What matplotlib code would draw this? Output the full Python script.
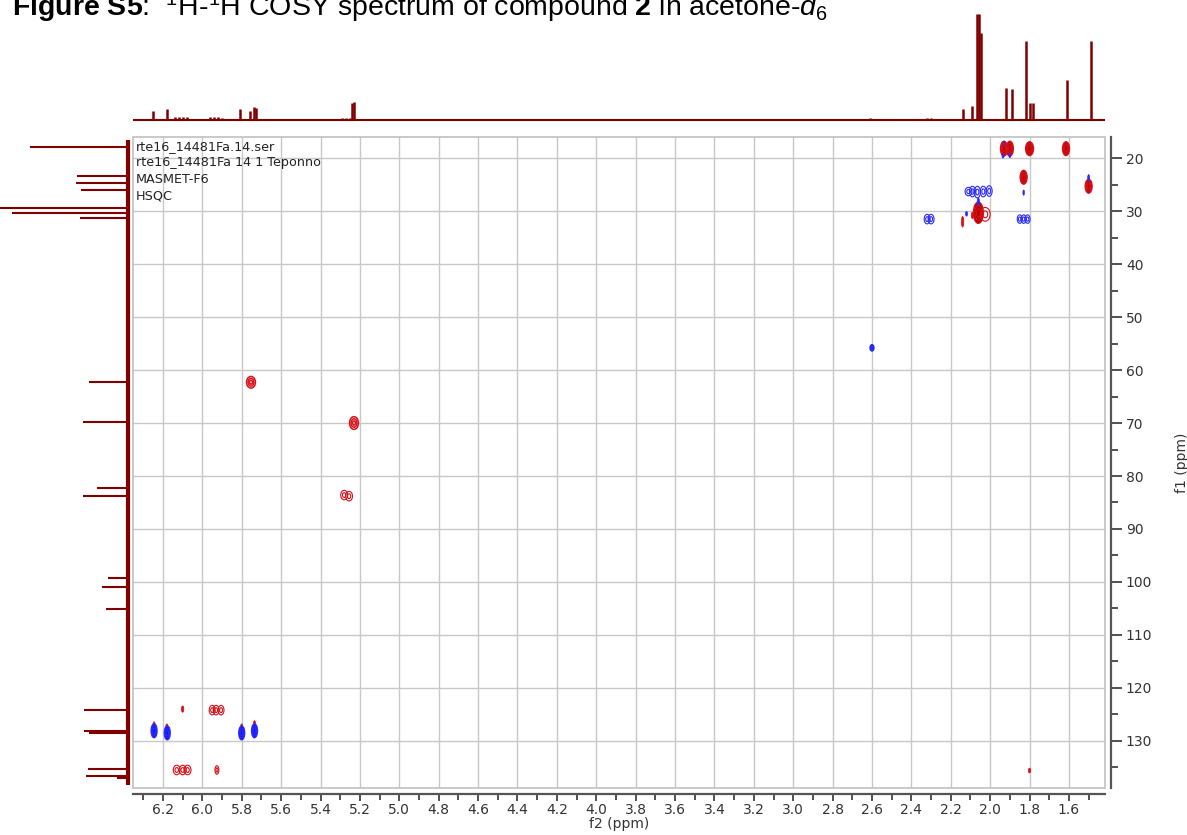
import matplotlib
matplotlib.use("Agg")
import matplotlib.pyplot as plt
from matplotlib.patches import Ellipse, Rectangle
from matplotlib.ticker import MultipleLocator

# 1H projection on top: shift (ppm) and height
h_shift = [6.25, 6.18, 6.14, 6.12, 6.10, 6.08, 5.96, 5.94, 5.92, 5.90, 5.81, 5.76,
           5.74, 5.73, 5.29, 5.27, 5.25, 5.24, 5.23, 2.61, 2.32, 2.30, 2.14, 2.09,
           2.065, 2.055, 2.045, 1.92, 1.89, 1.82, 1.80, 1.785, 1.61, 1.49]
h_height = [9, 11, 3, 3, 3, 3, 3, 3, 3, 2, 11, 9,
            13, 12, 2, 2, 2, 17, 18, 2, 2, 2, 11, 14,
            106, 106, 87, 32, 31, 79, 17, 17, 40, 79]

# 13C projection on the left: shift (ppm) and height
c_shift = [17.9, 23.4, 24.7, 26.0, 29.4, 30.4, 31.3, 62.3, 69.8, 82.3, 83.8,
           99.2, 100.9, 105.1, 124.2, 128.1, 128.5, 135.3, 136.6, 137.0]
c_height = [96, 50, 51, 46, 140, 113, 47, 38, 44, 30, 44,
            19, 25, 21, 43, 43, 38, 39, 41, 11]

# HSQC cross peaks, positive phase (red)
pos_f2 = [1.93, 1.90, 1.80, 1.615, 1.83, 1.50, 2.06, 2.025, 2.14, 2.09,
          5.753, 5.23, 5.28, 5.255, 5.95, 5.93, 5.905, 6.10,
          6.13, 6.10, 6.075, 5.926, 1.80, 6.245, 6.18, 5.80, 5.735]
pos_f1 = [18.2, 18.2, 18.2, 18.2, 23.6, 25.3, 30.3, 30.6, 32.0, 30.8,
          62.3, 70.0, 83.6, 83.8, 124.2, 124.2, 124.2, 124.0,
          135.5, 135.5, 135.5, 135.5, 135.6, 126.8, 127.2, 127.2, 126.6]
pos_w = [0.035, 0.035, 0.04, 0.035, 0.035, 0.035, 0.05, 0.05, 0.012, 0.012,
         0.045, 0.045, 0.035, 0.035, 0.03, 0.03, 0.03, 0.012,
         0.035, 0.035, 0.035, 0.02, 0.012, 0.01, 0.01, 0.01, 0.01]
pos_h = [2.8, 2.8, 2.6, 2.6, 2.6, 2.6, 4.0, 2.6, 2.0, 1.2,
         2.2, 2.4, 1.8, 1.8, 1.8, 1.8, 1.8, 1.2,
         1.8, 1.8, 1.8, 1.6, 0.9, 0.8, 0.8, 0.8, 0.8]
pos_style = ["filled", "filled", "filled", "filled", "filled", "filled", "filled", "open", "dot", "dot",
             "ring", "ring", "open", "open", "open", "open", "open", "dot",
             "open", "open", "open", "open", "dot", "dot", "dot", "dot", "dot"]

# HSQC cross peaks, negative phase (blue)
neg_f2 = [6.245, 6.178, 5.80, 5.735, 2.60, 2.32, 2.30, 1.85, 1.83, 1.81,
          2.11, 2.09, 2.065, 2.035, 2.005, 2.06, 2.12, 1.83, 1.50, 1.93, 1.90, 1.935]
neg_f1 = [128.1, 128.5, 128.5, 128.1, 55.8, 31.5, 31.5, 31.5, 31.5, 31.5,
          26.3, 26.3, 26.4, 26.3, 26.2, 28.3, 30.5, 26.5, 23.7, 17.3, 19.4, 19.5]
neg_w = [0.03, 0.03, 0.03, 0.03, 0.02, 0.03, 0.03, 0.025, 0.025, 0.025,
         0.035, 0.03, 0.03, 0.03, 0.03, 0.012, 0.01, 0.008, 0.01, 0.01, 0.01, 0.01]
neg_h = [2.6, 2.6, 2.6, 2.6, 1.2, 1.8, 1.8, 1.6, 1.6, 1.6,
         1.6, 2.0, 2.2, 2.0, 2.0, 1.6, 0.9, 1.0, 1.2, 1.0, 1.0, 1.0]
neg_style = ["filled", "filled", "filled", "filled", "filled", "open", "open", "open", "open", "open",
             "open", "open", "open", "open", "open", "dot", "dot", "dot", "dot", "dot", "dot", "dot"]

info_lines = ["rte16_14481Fa.14.ser", "rte16_14481Fa 14 1 Teponno", "MASMET-F6", "HSQC"]

F2_LIM = (6.352, 1.417)
F1_LIM = (138.9, 16.0)
SPEC = "#800000"

plt.rcParams["mathtext.fontset"] = "custom"
plt.rcParams["mathtext.rm"] = "Liberation Sans"
plt.rcParams["mathtext.it"] = "Liberation Sans:italic"
plt.rcParams["mathtext.bf"] = "Liberation Sans:bold"

W, H = 1187, 835
fig = plt.figure(figsize=(W / 100, H / 100), dpi=100)


def px_box(x0, y0, x1, y1):
    return [x0 / W, 1 - y1 / H, (x1 - x0) / W, (y1 - y0) / H]


ax = fig.add_axes(px_box(133, 137, 1105, 788))
ax_top = fig.add_axes(px_box(133, 10, 1105, 125))
ax_left = fig.add_axes(px_box(0, 137, 133, 788))


def draw_peak(x, y, w, h, style, color, light):
    if style == "filled":
        ax.add_patch(Ellipse((x, y), w, h, facecolor=color, edgecolor=light, lw=1.0, zorder=3))
        for s in (0.7, 0.4):
            ax.add_patch(Ellipse((x, y), w * s, h * s, facecolor="none", edgecolor=light,
                                 lw=0.8, zorder=4))
    elif style == "ring":
        for s in (1.0, 0.66, 0.33):
            ax.add_patch(Ellipse((x, y), w * s, h * s, facecolor="none", edgecolor=light,
                                 lw=1.1, zorder=3))
    elif style == "open":
        for s in (1.0, 0.5):
            ax.add_patch(Ellipse((x, y), w * s, h * s, facecolor="none", edgecolor=light,
                                 lw=0.8, zorder=3))
    else:
        ax.add_patch(Ellipse((x, y), w, h, facecolor=light, edgecolor=light, lw=0.5, zorder=3))


for i in range(len(pos_f2)):
    draw_peak(pos_f2[i], pos_f1[i], pos_w[i], pos_h[i], pos_style[i], "#b00000", "#d81018")
for i in range(len(neg_f2)):
    draw_peak(neg_f2[i], neg_f1[i], neg_w[i], neg_h[i], neg_style[i], "#1010e0", "#2a2aff")

ax.set_xlim(F2_LIM)
ax.set_ylim(F1_LIM)
ax.xaxis.set_major_locator(MultipleLocator(0.2))
ax.xaxis.set_minor_locator(MultipleLocator(0.1))
ax.yaxis.set_major_locator(MultipleLocator(10))
ax.yaxis.set_minor_locator(MultipleLocator(5))
ax.grid(True, which="major", color="#c8c8c8", lw=1.0)
ax.set_axisbelow(True)
ax.yaxis.tick_right()
ax.yaxis.set_label_position("right")
for side in ("top", "left"):
    ax.spines[side].set_visible(False)
for side in ("bottom", "right"):
    ax.spines[side].set_position(("outward", 4))
    ax.spines[side].set_color("#555555")
    ax.spines[side].set_linewidth(1.6)
ax.add_patch(Rectangle((0, 0), 1, 1, transform=ax.transAxes, fill=False,
                       edgecolor="#c0c0c0", lw=1.2, clip_on=False, zorder=1))
ax.tick_params(axis="both", which="both", colors="#333333", labelsize=10, direction="out")
ax.tick_params(axis="x", which="major", length=5, width=1.2, pad=2)
ax.tick_params(axis="x", which="minor", length=4, width=1.2)
ax.tick_params(axis="y", which="major", length=8, width=1.2, pad=3)
ax.tick_params(axis="y", which="minor", length=5, width=1.2)
ax.xaxis.set_major_formatter(matplotlib.ticker.FormatStrFormatter("%.1f"))
ax.set_xlabel("f2 (ppm)", fontsize=10, color="#333333", labelpad=0)
ax.set_ylabel("f1 (ppm)", fontsize=10, color="#333333", labelpad=16)

for i, line in enumerate(info_lines):
    ax.text(0.003, 0.996 - i * 0.0255, line, transform=ax.transAxes, fontsize=9.2,
            color="#222222", va="top", ha="left", zorder=5)

# top 1H trace
ax_top.hlines(0, F2_LIM[0], F2_LIM[1], color=SPEC, lw=1.5)
ax_top.vlines(h_shift, 0, h_height, color=SPEC, lw=1.8)
ax_top.set_xlim(F2_LIM)
ax_top.set_ylim(-5, 110)
ax_top.axis("off")

# left 13C trace
ax_left.vlines(0, F1_LIM[1] + 0.5, F1_LIM[0] - 0.5, color=SPEC, lw=3.0)
ax_left.hlines(c_shift, 0, c_height, color=SPEC, lw=1.5)
ax_left.set_xlim(125, -5)
ax_left.set_ylim(F1_LIM)
ax_left.axis("off")

fig.text(12 / W, 1 - 16 / H,
         r"$\mathbf{Figure\ S5}$:  $^{1}$H-$^{1}$H COSY spectrum of compound $\mathbf{2}$ in acetone-$d_{6}$",
         fontsize=20.5, family="Liberation Sans", va="baseline", ha="left", color="black")

fig.savefig("out.png", dpi=100)
